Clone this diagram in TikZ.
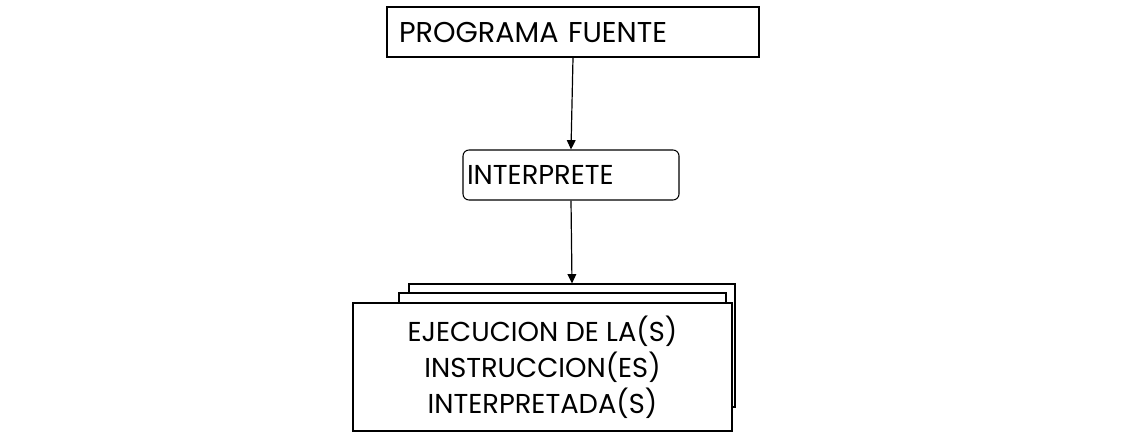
\documentclass[tikz,border=0pt]{standalone}
\usepackage{fontspec}
\setmainfont{Poppins}
\usetikzlibrary{arrows.meta}
\tikzset{
  box/.style={draw=black, line width=0.8pt, fill=white, inner sep=0pt},
  lbl/.style={font=\fontsize{20.5}{27}\selectfont},
  conn/.style={draw=black, line width=0.9pt, -{Triangle[length=7pt,width=6.5pt]}}
}
\begin{document}
\begin{tikzpicture}[x=0.75pt,y=-0.75pt]
\useasboundingbox (0,0) rectangle (1138,446);
% top box
\node[box, minimum width=279pt, minimum height=37.5pt, text width=261pt, inner xsep=9pt, align=left,
      font=\fontsize{21.5}{27}\selectfont] (src) at (573,32) {PROGRAMA FUENTE};
% interpreter
\node[box, rounded corners=4.5pt, minimum width=162pt, minimum height=37.5pt, text width=156pt, inner xsep=3pt, align=left, lbl] (int) at (571,175) {INTERPRETE};
% stacked boxes
\node[box, minimum width=244.5pt, minimum height=92.25pt] (back) at (572,345.5) {};
\node[box, minimum width=245.25pt, minimum height=96pt] (midst) at (562.5,357) {};
\node[box, minimum width=284.25pt, minimum height=96pt, align=center, lbl] (front) at (542.5,367) {EJECUCION DE LA(S)\\INSTRUCCION(ES)\\INTERPRETADA(S)};
% connectors
\draw[conn] (src.south) -- (int.north);
\draw[conn] (int.south) -- (back.north);
\end{tikzpicture}
\end{document}
